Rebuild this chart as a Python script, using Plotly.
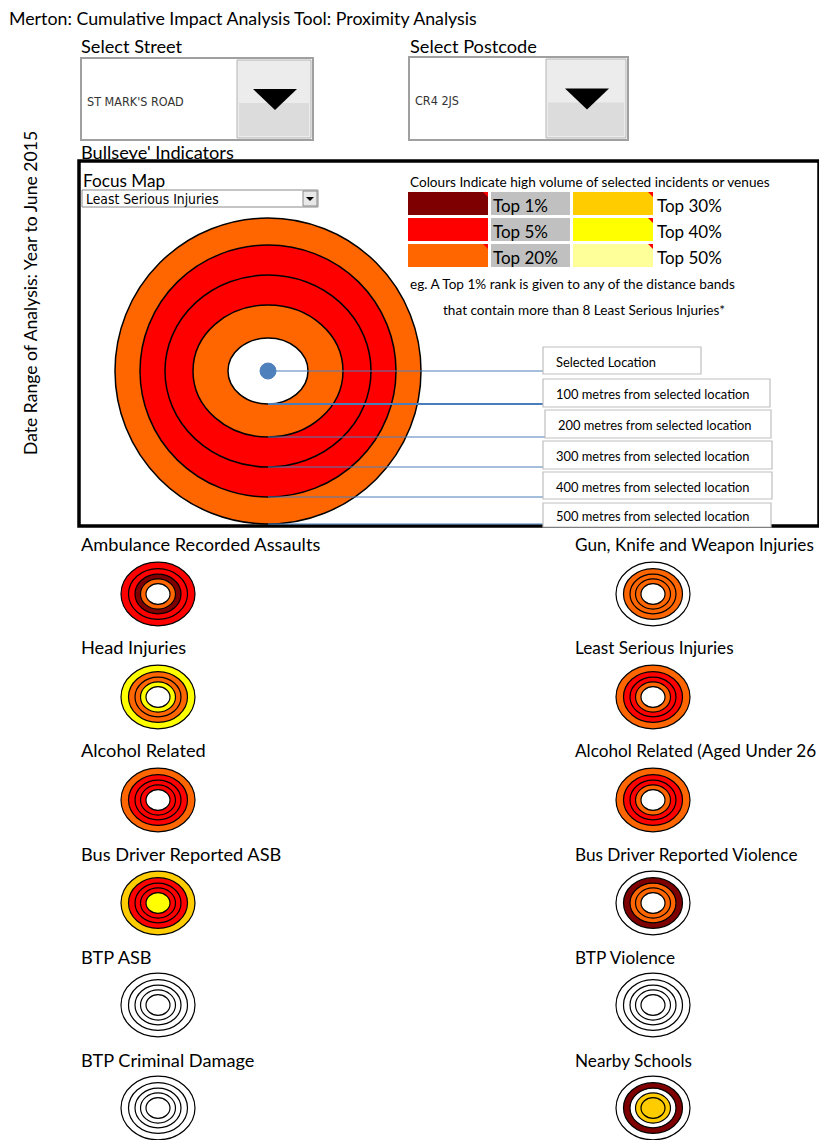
import plotly.graph_objects as go

# ---------------- DATA ----------------
title_text = "Merton: Cumulative Impact Analysis Tool: Proximity Analysis"
side_text = "Date Range of Analysis: Year to June 2015"
street = "ST MARK'S ROAD"
postcode = "CR4 2JS"
focus_indicator = "Least Serious Injuries"
threshold_count = 8

rank_names = ["Top 1%", "Top 5%", "Top 20%", "Top 30%", "Top 40%", "Top 50%"]
rank_colours = ["#7F0000", "#FF0000", "#FF6600", "#FFCC00", "#FFFF00", "#FFFF99"]

band_labels = ["Selected Location", "100 metres from selected location",
               "200 metres from selected location", "300 metres from selected location",
               "400 metres from selected location", "500 metres from selected location"]

indicators = ["Ambulance Recorded Assaults", "Gun, Knife and Weapon Injuries",
              "Head Injuries", "Least Serious Injuries",
              "Alcohol Related", "Alcohol Related (Aged Under 26",
              "Bus Driver Reported ASB", "Bus Driver Reported Violence",
              "BTP ASB", "BTP Violence",
              "BTP Criminal Damage", "Nearby Schools"]
# rank of each distance band, per indicator ("" = not ranked)
rank_100m = ["", "", "", "", "", "", "Top 40%", "", "", "", "", "Top 30%"]
rank_200m = ["Top 20%", "Top 20%", "Top 40%", "Top 20%", "Top 5%", "Top 20%", "Top 5%", "Top 20%", "", "", "", "Top 30%"]
rank_300m = ["Top 1%", "Top 20%", "Top 20%", "Top 5%", "Top 5%", "Top 5%", "Top 5%", "Top 20%", "", "", "", ""]
rank_400m = ["Top 5%", "Top 20%", "Top 20%", "Top 5%", "Top 5%", "Top 5%", "Top 5%", "Top 1%", "", "", "", "Top 1%"]
rank_500m = ["Top 5%", "", "Top 40%", "Top 20%", "Top 20%", "Top 20%", "Top 30%", "", "", "", "", ""]

# ---------------- HELPERS ----------------
W, H = 827, 1140
PAGE_MARGIN = 8  # browser body margin around the plot div
FONT = "Lato"
colour_of = dict(zip(rank_names, rank_colours))
colour_of[""] = "#FFFFFF"

shapes = []
annotations = []


def rect(x0, y0, x1, y1, fill="rgba(0,0,0,0)", line="#000", lw=1):
    shapes.append(dict(type="rect", xref="x", yref="y", x0=x0, y0=y0, x1=x1, y1=y1,
                       fillcolor=fill, line=dict(color=line, width=lw), layer="above"))


def ellipse(cx, cy, rx, ry, fill, line="#000", lw=1.2):
    shapes.append(dict(type="circle", xref="x", yref="y", x0=cx - rx, x1=cx + rx,
                       y0=cy - ry, y1=cy + ry, fillcolor=fill,
                       line=dict(color=line, width=lw), layer="above"))


def hline(x0, x1, y, color="#4A7EBB", lw=1):
    shapes.append(dict(type="line", xref="x", yref="y", x0=x0, x1=x1, y0=y, y1=y,
                       line=dict(color=color, width=lw), layer="above"))


def path(d, fill):
    shapes.append(dict(type="path", xref="x", yref="y", path=d, fillcolor=fill,
                       line=dict(color="rgba(0,0,0,0)", width=0), layer="above"))


def text(x, y, s, size, xanchor="left", color="#000", angle=0, family=FONT):
    # annotations carry ~2px of inner padding; compensate with a pixel shift
    annotations.append(dict(x=x, y=y, xref="x", yref="y", text=s, showarrow=False,
                            xanchor=xanchor, yanchor="middle", textangle=angle,
                            xshift=-2 if xanchor == "left" else 0,
                            font=dict(size=size, color=color, family=family)))


def dropdown(x0, y0, x1, y1, bx, label):
    rect(x0, y0, x1, y1, fill="#FFFFFF", line="#A0A0A0", lw=2)
    rect(bx, y0 + 2, x1 - 2, y1 - 2, fill="#ECECEC", line="#B4B4B4", lw=1)
    rect(bx + 2, (y0 + y1) / 2 + 4, x1 - 4, y1 - 4, fill="#DCDCDC", line="#DCDCDC", lw=0)
    cx = (bx + x1) / 2
    cy = (y0 + y1) / 2
    path(f"M {cx-22} {cy-10} L {cx+22} {cy-10} L {cx} {cy+11} Z", "#000000")
    text(x0 + 6, cy + 2, label, 12.5,
         family="DejaVu Sans Condensed, Liberation Sans, sans-serif", color="#333333")


def bullseye(cx, cy, rxs, rys, colours, lw=1.2):
    for rx, ry, c in sorted(zip(rxs, rys, colours), key=lambda t: -t[0]):
        ellipse(cx, cy, rx, ry, c, lw=lw)


# ---------------- HEADER ----------------
text(9, 18, title_text, 17.8)
text(81, 46, "Select Street", 18.2)
text(410, 46, "Select Postcode", 18.2)
dropdown(81, 58, 313, 140, 237, street)
dropdown(409, 57, 628, 140, 546, postcode)
text(81, 152, "Bullseye' Indicators", 18.2)
text(30, 293, side_text, 17.6, angle=-90, xanchor="center")

# ---------------- FOCUS PANEL ----------------
rect(79, 161, 819, 526, fill="rgba(0,0,0,0)", line="#000", lw=3.5)
text(83, 180, "Focus Map", 17.2)
rect(82, 190, 318, 207, fill="#FFFFFF", line="#8A8A8A", lw=1)
rect(303, 191, 317, 206, fill="#E8E8E8", line="#8A8A8A", lw=1)
path("M 306 197 L 314 197 L 310 201 Z", "#000000")
text(86, 199, focus_indicator, 13.8,
     family="DejaVu Sans Condensed, Liberation Sans, sans-serif")

text(410, 182, "Colours Indicate high volume of selected incidents or venues", 13.6)
for i in range(3):
    y0 = 192 + i * 26
    y1 = y0 + 23
    for (bx0, bx1, k) in [(408, 488, i), (573, 653, i + 3)]:
        rect(bx0, y0, bx1, y1, fill=rank_colours[k], line=rank_colours[k], lw=0)
        path(f"M {bx1-5} {y0} L {bx1} {y0} L {bx1} {y0+5} Z", "#FF0000")
    rect(491, y0, 570, y1, fill="#C0C0C0", line="#C0C0C0", lw=0)
    text(493, y0 + 13, rank_names[i], 17)
    text(657, y0 + 13, rank_names[i + 3], 17)
text(410, 284, "eg. A Top 1% rank is given to any of the distance bands", 13.6)
text(443, 310, f"that contain more than {threshold_count} {focus_indicator}*", 13.6)

# main bullseye
fi = indicators.index(focus_indicator)
main_cols = [colour_of[v[fi]] for v in (rank_100m, rank_200m, rank_300m, rank_400m, rank_500m)]
mcx, mcy = 268, 371
bullseye(mcx, mcy, [40, 75, 103, 128, 153], [33, 66, 96, 126, 153], main_cols, lw=1.5)
ellipse(mcx, mcy, 8, 8, "#4F81BD", line="#4F81BD", lw=1)

# leader lines + label boxes
line_y = [371, 404, 437, 467, 497, 524]
box_x = [(543, 701), (543, 770), (545, 771), (543, 772), (543, 772), (543, 771)]
box_y = [(347, 374), (379, 407), (410, 438), (441, 469), (472, 499), (503, 527)]
for k, lab in enumerate(band_labels):
    hline(mcx, box_x[k][0], line_y[k], lw=2 if k == 1 else 1.2)
    rect(box_x[k][0], box_y[k][0], box_x[k][1], box_y[k][1], fill="#FFFFFF", line="#BFBFBF", lw=1.2)
    text(box_x[k][0] + 13, (box_y[k][0] + box_y[k][1]) / 2 + 1, lab, 12.9)

# ---------------- SMALL BULLSEYES ----------------
col_x = [158, 653]
lab_x = [81, 575]
lab_size = [18.2, 17.2]
lab_y = [544, 647, 750, 854, 957, 1060]
row_y = [594, 697, 800, 903, 1005, 1108]
small_rx = [12, 17.5, 23, 29.5, 37]
small_ry = [r * 0.86 for r in small_rx]
for i, name in enumerate(indicators):
    c, r = i % 2, i // 2
    text(lab_x[c], lab_y[r], name, lab_size[c])
    cols = [colour_of[v[i]] for v in (rank_100m, rank_200m, rank_300m, rank_400m, rank_500m)]
    bullseye(col_x[c], row_y[r], small_rx, small_ry, cols, lw=1.2)

fig = go.Figure()
fig.add_trace(go.Scatter(x=[PAGE_MARGIN, W], y=[PAGE_MARGIN, H], mode="markers",
                         marker=dict(opacity=0), hoverinfo="skip", showlegend=False))
fig.update_layout(
    width=W - PAGE_MARGIN, height=H - PAGE_MARGIN, margin=dict(l=0, r=0, t=0, b=0),
    paper_bgcolor="#FFFFFF", plot_bgcolor="#FFFFFF",
    xaxis=dict(range=[PAGE_MARGIN, W], visible=False, fixedrange=True),
    yaxis=dict(range=[H, PAGE_MARGIN], visible=False, fixedrange=True),
    shapes=shapes, annotations=annotations, showlegend=False,
)
fig.write_html("out.html")
